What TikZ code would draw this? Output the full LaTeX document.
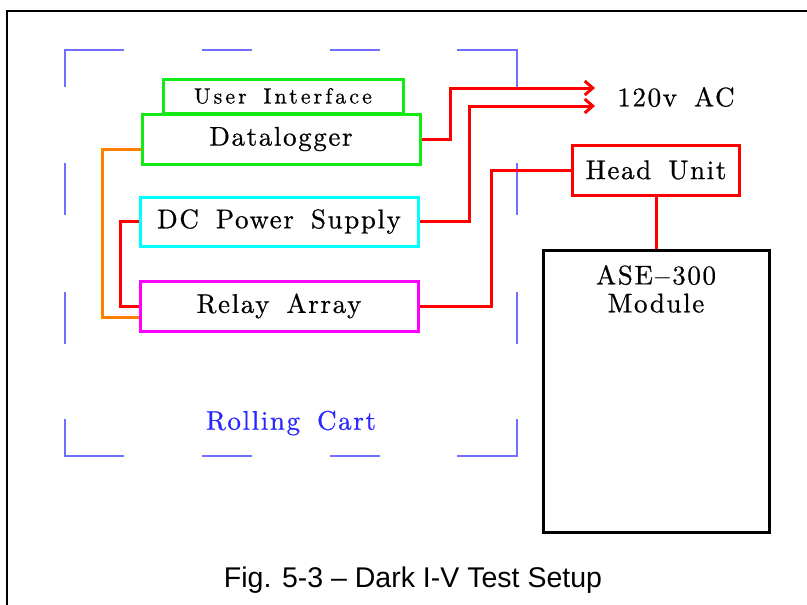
\documentclass[tikz,border=0pt]{standalone}
\usepackage{fontspec}
\newfontfamily\capfont{Liberation Sans}
\newfontfamily\diagfont[LetterSpace=6,WordSpace=1.6,FakeBold=0.6]{lmroman10-regular.otf}
\usetikzlibrary{arrows.meta}
\definecolor{cartblue}{RGB}{110,110,255}
\definecolor{cartlabel}{RGB}{40,40,255}
\definecolor{boxgreen}{RGB}{20,235,20}
\definecolor{boxcyan}{RGB}{0,255,255}
\definecolor{boxmagenta}{RGB}{255,0,255}
\definecolor{wirered}{RGB}{255,0,0}
\definecolor{wireorange}{RGB}{255,128,0}

\begin{document}
\begin{tikzpicture}[x=1pt,y=-1pt,
   every node/.style={font=\diagfont\fontsize{27}{28}\selectfont},
   unit/.style={draw,line width=3pt,minimum height=50pt,inner sep=0pt},
   wire/.style={line width=3pt,wirered},
   cart/.style={line width=2pt,cartblue}]

   \useasboundingbox (0,0) rectangle (807,605);
   \draw[line width=2pt] (7,605) -- (7,11) -- (807,11);

   % rolling cart outline
   \draw[cart] (65,87) -- (65,50) -- (124,50);
   \draw[cart] (457,50) -- (517,50) -- (517,87);
   \draw[cart] (65,419) -- (65,456) -- (124,456);
   \draw[cart] (457,456) -- (517,456) -- (517,419);
   \foreach \x in {202,330} {
      \draw[cart] (\x,50) -- ++(50,0);
      \draw[cart] (\x,456) -- ++(50,0);
   }
   \foreach \y in {163,292} {
      \draw[cart] (65,\y) -- ++(0,52);
      \draw[cart] (517,\y) -- ++(0,52);
   }
   \node[text=cartlabel] (cart) at (291,423) {Rolling Cart};

   \node[unit,draw=boxgreen,minimum width=240pt,minimum height=34pt,
         font=\diagfont\fontsize{22}{24}\selectfont\addfontfeatures{LetterSpace=14}] (ui) at (283,96) {User Interface};
   \node[unit,draw=boxgreen,minimum width=278pt] (dl) at (281,139) {Datalogger};
   \node[unit,draw=boxcyan,minimum width=278pt,minimum height=49pt] (dc) at (279,221.5) {DC Power Supply};
   \node[unit,draw=boxmagenta,minimum width=278pt] (relay) at (279,306) {Relay Array};
   \node[unit,draw=wirered,minimum width=167pt] (head) at (656,170) {Head Unit};
   \node[unit,draw=black,minimum width=226pt,minimum height=282pt] (ase) at (656,391) {};
   \node[align=center,anchor=north] (asetxt) at ([yshift=-13pt]ase.north) {ASE$-$300\\Module};

   \node (ac) at (676,97) {120v AC};
   \coordinate (ac1) at (595,88);
   \coordinate (ac2) at (595,106);

   \draw[wire,-{Straight Barb[length=8pt,width=14pt]}] (dl.east) -- ++(29,0) |- (ac1);
   \draw[wire,-{Straight Barb[length=8pt,width=14pt]}] (dc.east) -- ++(50,0) |- (ac2);
   \draw[wire] (head.west) -- ++(-80,0) |- (relay.east);
   \draw[wire] (head) -- (ase);
   \draw[wire] (dc.west) -- ++(-18,0) |- (relay.west);
   \draw[line width=3pt,wireorange] ([yshift=-10pt]dl.west) -- ++(-38,0) |- ([yshift=-11pt]relay.west);

   \node[font=\capfont\fontsize{28.5}{32}\selectfont] (caption) at (413,580) {Fig. 5-3 – Dark I-V Test Setup};
\end{tikzpicture}
\end{document}
